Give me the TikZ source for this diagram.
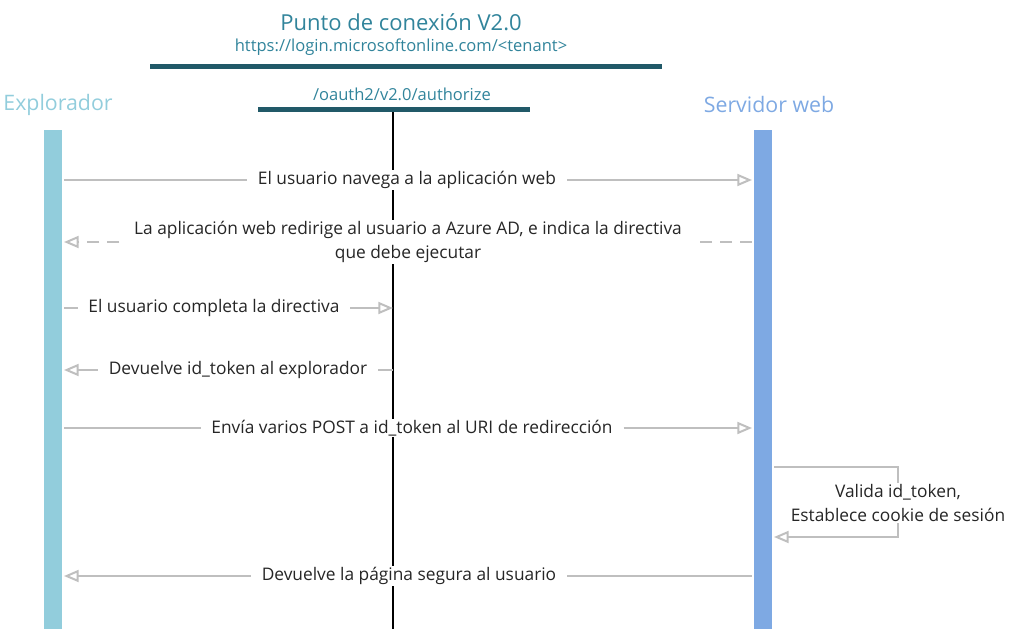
\documentclass[tikz,border=0pt]{standalone}
\usepackage{fontspec}
\setmainfont{Open Sans}
\usetikzlibrary{positioning}
\usetikzlibrary{calc}
\usetikzlibrary{arrows.meta}
\usetikzlibrary{backgrounds}
\definecolor{epteal}{HTML}{31849B}
\definecolor{epbar}{HTML}{215968}
\definecolor{exblue}{HTML}{92CDDC}
\definecolor{svblue}{HTML}{7EA9E3}
\definecolor{msggray}{HTML}{BFBFBF}
\tikzset{every picture/.style={x=0.75pt,y=-0.75pt}}
\begin{document}
\begin{tikzpicture}[lbl/.style={fill=white,inner xsep=8pt,inner ysep=1pt,align=center,text=black!85,font=\fontsize{13}{18}\selectfont},
msg/.style={draw=msggray,line width=1.5pt},
msgto/.style={msg,-{Triangle[open,length=11pt,width=9pt]}},
hdr/.style={font=\fontsize{16}{18}\selectfont},
ep/.style={text=epteal,font=\fontsize{12.4}{14}\selectfont}]
\useasboundingbox (0,0) rectangle (1011,629);
\node (title) at (401,22) [ep,font=\fontsize{16.5}{18}\selectfont] {Punto de conexión V2.0};
\node (url) at (401,47) [ep] {https://login.microsoftonline.com/<tenant>};
\fill[epbar] (150,64) rectangle (662,69);
\node (auth) at (402,94) [ep] {/oauth2/v2.0/authorize};
\fill[epbar] (258,107) rectangle (530,112);
\node (expl) at (58,105) [hdr,text=exblue] {Explorador};
\node (serv) at (769,104) [hdr,text=svblue] {Servidor web};
\fill[exblue] (44,130) rectangle (62,629);
\fill[svblue] (754,130) rectangle (772,629);
\coordinate (eb) at (64,0);
\coordinate (sb) at (752,0);
\coordinate (sr) at (774,0);
\coordinate (ax) at (393,112);

\node (m1) at (407,180) [lbl] {El usuario navega a la aplicación web};
\node (m2) at (408,242) [lbl,inner xsep=11pt] {La aplicación web redirige al usuario a Azure AD, e indica la directiva\\que debe ejecutar};
\node (m3) at (214,308) [lbl] {El usuario completa la directiva};
\node (m4) at (238,370) [lbl] {Devuelve id\_token al explorador};
\node (m5) at (412,428) [lbl] {Envía varios POST a id\_token al URI de redirección};
\node (m6) at (898,503) [lbl,inner xsep=2pt] {Valida id\_token,\\Establece cookie de sesión};
\node (m7) at (409,576) [lbl] {Devuelve la página segura al usuario};

\begin{scope}[on background layer]
\draw[line width=0.8pt] (ax) -- (ax |- 0,629);
\draw[msgto] (sr |- 0,467) -| (m6.center) |- (sr |- 0,537);
\end{scope}
\draw[msg] (eb |- m1) -- (m1.west);
\draw[msgto] (m1.east) -- (sb |- m1);
\draw[msgto,dash pattern=on 9pt off 6pt] (m2.west) -- (eb |- m2);
\draw[msg,dash pattern=on 9pt off 6pt] (sb |- m2) -- (m2.east);
\draw[msg] (eb |- m3) -- (m3.west);
\draw[msgto] (m3.east) -- (ax |- m3);
\draw[msgto] (m4.west) -- (eb |- m4);
\draw[msg] (ax |- m4) -- (m4.east);
\draw[msg] (eb |- m5) -- (m5.west);
\draw[msgto] (m5.east) -- (sb |- m5);
\draw[msgto] (m7.west) -- (eb |- m7);
\draw[msg] (sb |- m7) -- (m7.east);
\end{tikzpicture}
\end{document}
